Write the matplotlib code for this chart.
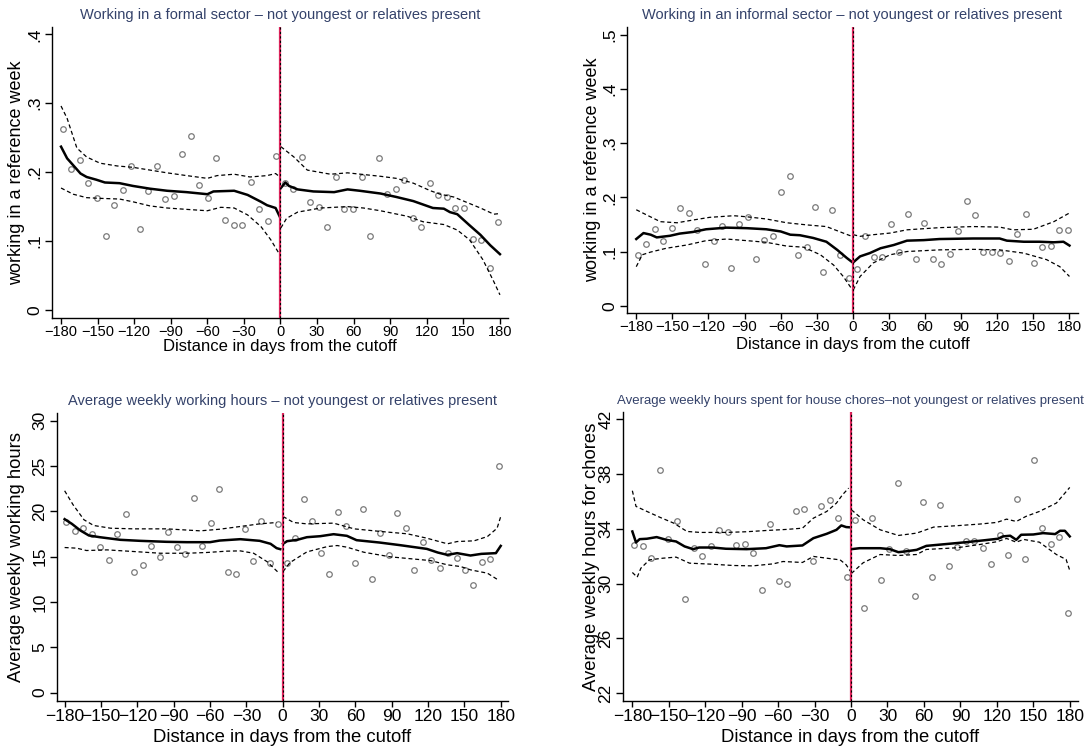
import numpy as np
import matplotlib
matplotlib.use("Agg")
import matplotlib.pyplot as plt

plt.rcParams['font.family'] = ['Liberation Sans', 'DejaVu Sans']

# ---------------- data ----------------
bins_left = np.arange(-178.5, 0, 7.0)     # weekly bins left of cutoff
bins_right = np.arange(3.5, 180, 7.0)     # weekly bins right of cutoff
x_ticks = [-180, -150, -120, -90, -60, -30, 0, 30, 60, 90, 120, 150, 180]

# Panel 1: formal sector
p1_left = [0.263, 0.204, 0.217, 0.184, 0.163, 0.108, 0.152, 0.174, 0.209, 0.118, 0.172, 0.209, 0.161,
           0.165, 0.227, 0.253, 0.181, 0.162, 0.220, 0.130, 0.124, 0.124, 0.186, 0.147, 0.129, 0.223]
p1_right = [0.184, 0.176, 0.222, 0.157, 0.149, 0.120, 0.193, 0.147, 0.147, 0.193, 0.107, 0.220, 0.168,
            0.176, 0.189, 0.133, 0.121, 0.184, 0.167, 0.164, 0.148, 0.148, 0.103, 0.102, 0.061, 0.128]
p1_fitL_x = [-180, -175, -164, -159, -151, -144, -132, -121, -107, -93, -77, -60, -55, -38, -27, -16, -11, -4, -0.5]
p1_fitL_y = [0.237, 0.220, 0.198, 0.193, 0.189, 0.185, 0.184, 0.180, 0.176, 0.173, 0.171, 0.168, 0.172, 0.173, 0.167, 0.157, 0.152, 0.148, 0.135]
p1_upL_x = [-180, -175, -167, -159, -148, -134, -121, -107, -93, -77, -60, -52, -38, -25, -11, -4, -0.5]
p1_upL_y = [0.296, 0.278, 0.235, 0.222, 0.213, 0.209, 0.207, 0.203, 0.199, 0.195, 0.191, 0.195, 0.197, 0.193, 0.195, 0.198, 0.193]
p1_loL_x = [-180, -170, -159, -148, -132, -121, -107, -93, -77, -60, -49, -38, -27, -16, -8, -0.5]
p1_loL_y = [0.177, 0.168, 0.163, 0.162, 0.161, 0.157, 0.151, 0.148, 0.146, 0.144, 0.149, 0.148, 0.138, 0.121, 0.102, 0.080]
p1_fitR_x = [0.3, 4, 7, 14, 27, 44, 55, 65, 82, 95, 109, 125, 134, 139, 145, 155, 164, 172, 180]
p1_fitR_y = [0.177, 0.185, 0.180, 0.175, 0.172, 0.171, 0.175, 0.173, 0.169, 0.164, 0.158, 0.148, 0.147, 0.142, 0.139, 0.123, 0.109, 0.094, 0.081]
p1_upR_x = [0.3, 11, 22, 41, 55, 82, 95, 109, 123, 131, 142, 153, 164, 175, 180]
p1_upR_y = [0.237, 0.222, 0.203, 0.197, 0.199, 0.194, 0.191, 0.184, 0.173, 0.168, 0.164, 0.156, 0.148, 0.139, 0.140]
p1_loR_x = [0.3, 5, 14, 33, 55, 68, 82, 104, 117, 134, 145, 155, 166, 175, 180]
p1_loR_y = [0.119, 0.133, 0.142, 0.148, 0.150, 0.148, 0.144, 0.136, 0.128, 0.124, 0.116, 0.102, 0.073, 0.041, 0.022]

# Panel 2: informal sector
p2_left = [0.094, 0.113, 0.142, 0.119, 0.144, 0.181, 0.171, 0.140, 0.077, 0.120, 0.147, 0.069, 0.150,
           0.163, 0.087, 0.122, 0.128, 0.210, 0.239, 0.094, 0.109, 0.182, 0.063, 0.177, 0.094, 0.052]
p2_right = [0.068, 0.129, 0.090, 0.089, 0.150, 0.100, 0.169, 0.086, 0.153, 0.087, 0.077, 0.095, 0.138,
            0.193, 0.167, 0.099, 0.099, 0.097, 0.082, 0.133, 0.169, 0.079, 0.109, 0.111, 0.139, 0.139]
p2_fitL_x = [-180, -174, -168, -163, -152, -144, -133, -122, -105, -88, -72, -60, -52, -44, -33, -22, -13, -5, -0.3]
p2_fitL_y = [0.123, 0.134, 0.131, 0.126, 0.129, 0.133, 0.136, 0.141, 0.144, 0.143, 0.141, 0.137, 0.131, 0.130, 0.125, 0.118, 0.103, 0.088, 0.080]
p2_upL_x = [-180, -171, -160, -146, -133, -119, -99, -88, -72, -55, -38, -22, -8, -2]
p2_upL_y = [0.177, 0.167, 0.155, 0.153, 0.158, 0.163, 0.166, 0.164, 0.160, 0.153, 0.149, 0.146, 0.134, 0.129]
p2_loL_x = [-180, -175, -168, -155, -138, -122, -105, -88, -72, -55, -41, -27, -16, -8, -0.3]
p2_loL_y = [0.072, 0.094, 0.099, 0.106, 0.112, 0.120, 0.123, 0.120, 0.117, 0.110, 0.108, 0.094, 0.075, 0.054, 0.029]
p2_fitR_x = [0.3, 6, 14, 23, 34, 45, 59, 72, 100, 122, 128, 142, 155, 167, 175, 180]
p2_fitR_y = [0.080, 0.091, 0.097, 0.106, 0.112, 0.120, 0.121, 0.123, 0.124, 0.124, 0.120, 0.118, 0.118, 0.117, 0.118, 0.111]
p2_upR_x = [0.3, 6, 17, 31, 45, 72, 100, 122, 133, 150, 167, 180]
p2_upR_y = [0.131, 0.128, 0.131, 0.134, 0.140, 0.144, 0.146, 0.145, 0.140, 0.141, 0.155, 0.171]
p2_loR_x = [0.3, 6, 17, 31, 45, 72, 100, 122, 142, 161, 172, 180]
p2_loR_y = [0.029, 0.054, 0.079, 0.094, 0.100, 0.103, 0.104, 0.103, 0.097, 0.085, 0.072, 0.054]

# Panel 3: weekly working hours
p3_left = [18.84, 17.78, 18.14, 17.52, 16.05, 14.61, 17.52, 19.69, 13.29, 14.06, 16.19, 14.98, 17.70,
           16.05, 15.31, 21.46, 16.19, 18.77, 22.49, 13.36, 13.07, 18.07, 14.54, 18.99, 14.32, 18.66]
p3_right = [14.28, 17.04, 21.38, 18.92, 15.42, 13.07, 19.91, 18.40, 14.28, 20.21, 12.51, 17.56, 15.16,
            19.84, 18.18, 13.58, 16.60, 14.61, 13.73, 15.38, 14.80, 13.51, 11.93, 14.46, 14.76, 25.03]
p3_fitL_x = [-180, -174, -167, -160, -151, -134, -118, -96, -79, -60, -52, -35, -19, -10, -5, -2]
p3_fitL_y = [19.14, 18.62, 17.89, 17.34, 17.15, 16.86, 16.75, 16.64, 16.60, 16.60, 16.78, 16.93, 16.75, 16.42, 15.94, 15.83]
p3_upL_x = [-180, -173, -164, -156, -142, -123, -96, -68, -52, -35, -19, -5]
p3_upL_y = [22.27, 20.72, 19.07, 18.44, 18.14, 18.07, 18.07, 17.85, 18.03, 18.33, 18.62, 18.77]
p3_loL_x = [-180, -170, -162, -145, -123, -101, -79, -63, -46, -35, -24, -13, -3]
p3_loL_y = [16.01, 15.94, 15.68, 15.75, 15.57, 15.38, 15.38, 15.46, 15.61, 15.64, 15.38, 14.46, 13.18]
p3_fitR_x = [0.3, 3.6, 12, 20, 31, 42, 53, 61, 80, 97, 119, 128, 136, 144, 155, 164, 176, 180]
p3_fitR_y = [16.42, 16.71, 16.86, 17.15, 17.26, 17.48, 17.30, 16.82, 16.56, 16.27, 15.86, 15.46, 15.20, 15.39, 15.13, 15.31, 15.39, 16.19]
p3_upR_x = [0.3, 9, 20, 42, 59, 81, 103, 119, 136, 144, 158, 169, 177, 180]
p3_upR_y = [19.43, 18.77, 18.62, 18.70, 18.07, 17.78, 17.52, 17.04, 16.42, 16.67, 16.75, 17.22, 18.14, 19.43]
p3_loR_x = [0.3, 6, 20, 37, 45, 53, 67, 89, 122, 136, 147, 155, 169, 177]
p3_loR_y = [13.36, 14.35, 15.53, 16.12, 16.23, 16.05, 15.49, 14.98, 14.57, 14.10, 13.91, 13.55, 13.18, 12.51]

# Panel 4: weekly hours for house chores
p4_left = [32.83, 32.73, 31.85, 38.30, 33.24, 34.53, 28.86, 32.61, 32.02, 32.75, 33.90, 33.78, 32.78,
           32.88, 32.24, 29.52, 34.36, 30.18, 29.98, 35.28, 35.43, 31.66, 35.67, 36.09, 34.80, 30.47]
p4_right = [34.63, 28.25, 34.77, 30.25, 32.51, 37.33, 32.41, 29.06, 35.94, 30.47, 35.70, 31.27, 32.68,
            33.14, 33.07, 32.61, 31.42, 33.51, 32.12, 36.16, 31.81, 39.01, 34.04, 32.90, 33.41, 27.84]
p4_fitL_x = [-180, -177, -174, -168, -160, -152, -144, -137, -130, -125, -114, -103, -86, -70, -59, -53, -40, -31, -20, -12, -8, -4, -0.5]
p4_fitL_y = [33.80, 33.00, 33.24, 33.27, 33.39, 33.19, 33.07, 32.71, 32.51, 32.63, 32.63, 32.54, 32.51, 32.58, 32.80, 32.71, 32.78, 33.31, 33.63, 33.92, 34.24, 34.12, 34.10]
p4_upL_x = [-180, -177, -168, -157, -146, -135, -124, -103, -86, -70, -53, -40, -31, -20, -12, -7, -2]
p4_upL_y = [36.77, 35.63, 35.26, 34.82, 34.41, 33.80, 33.73, 33.73, 33.78, 33.87, 33.95, 34.04, 34.77, 35.26, 35.87, 36.48, 36.96]
p4_loL_x = [-180, -176, -173, -166, -155, -144, -133, -116, -97, -81, -64, -56, -40, -31, -20, -9, -4, -0.5]
p4_loL_y = [30.81, 30.47, 31.12, 31.73, 31.85, 31.93, 31.49, 31.42, 31.32, 31.29, 31.44, 31.61, 31.54, 31.98, 31.85, 31.73, 31.37, 30.90]
p4_fitR_x = [0.3, 7, 24, 32, 39, 45, 54, 62, 78, 95, 111, 121, 125, 131, 136, 140, 150, 158, 168, 172, 176, 180]
p4_fitR_y = [32.51, 32.58, 32.58, 32.51, 32.29, 32.35, 32.46, 32.75, 32.88, 33.02, 33.17, 33.27, 33.44, 33.49, 33.19, 33.56, 33.58, 33.68, 33.61, 33.85, 33.85, 33.44]
p4_upR_x = [0.3, 10, 24, 39, 54, 68, 87, 106, 120, 128, 136, 144, 155, 169, 180]
p4_upR_y = [35.38, 34.65, 33.92, 33.51, 33.68, 34.12, 34.22, 34.34, 34.46, 34.70, 34.53, 34.90, 35.26, 35.87, 37.01]
p4_loR_x = [0.3, 10, 24, 39, 54, 62, 87, 106, 120, 128, 136, 142, 155, 169, 177, 180]
p4_loR_y = [30.74, 31.52, 32.12, 32.05, 32.12, 32.49, 32.61, 32.85, 33.05, 33.29, 33.02, 33.22, 33.02, 32.12, 31.76, 30.96]

titles = ["Working in a formal sector \u2013 not youngest or relatives present",
          "Working in an informal sector \u2013 not youngest or relatives present",
          "Average weekly working hours \u2013 not youngest or relatives present",
          "Average weekly hours spent for house chores\u2013not youngest or relatives present"]
ylabels = ["working in a reference week", "working in a reference week",
           "Average weekly working hours", "Average weekly hours for chores"]
xlabel = "Distance in days from the cutoff"

p1_yticks = [0, 0.1, 0.2, 0.3, 0.4]
p1_yticklabels = ["0", ".1", ".2", ".3", ".4"]
p2_yticks = [0, 0.1, 0.2, 0.3, 0.4, 0.5]
p2_yticklabels = ["0", ".1", ".2", ".3", ".4", ".5"]
p3_yticks = [0, 5, 10, 15, 20, 25, 30]
p4_yticks = [22, 26, 30, 34, 38, 42]

# ---------------- layout ----------------
W, H = 1091, 751
fig = plt.figure(figsize=(W / 100, H / 100), dpi=100)
fig.patch.set_facecolor("white")

def px_axes(l, r, t, b):
    return fig.add_axes([l / W, (H - b) / H, (r - l) / W, (b - t) / H])

panels = [
    dict(box=(52, 508, 27, 318), ylim=(-0.0116, 0.4106), xlim=(-187.4, 186.6),
         left=p1_left, right=p1_right,
         fitL=(p1_fitL_x, p1_fitL_y), upL=(p1_upL_x, p1_upL_y), loL=(p1_loL_x, p1_loL_y),
         fitR=(p1_fitR_x, p1_fitR_y), upR=(p1_upR_x, p1_upR_y), loR=(p1_loR_x, p1_loR_y),
         yt=p1_yticks, ytl=p1_yticklabels, title_y=15, title_fs=10.5, ylab_x=17, ylab_fs=13,
         xt_fs=10.5, xt_pad=1.0, xlab_y=347, xlab_fs=12),
    dict(box=(627, 1078, 27, 313), ylim=(-0.0134, 0.514), xlim=(-187.7, 187.1),
         left=p2_left, right=p2_right,
         fitL=(p2_fitL_x, p2_fitL_y), upL=(p2_upL_x, p2_upL_y), loL=(p2_loL_x, p2_loL_y),
         fitR=(p2_fitR_x, p2_fitR_y), upR=(p2_upR_x, p2_upR_y), loR=(p2_loR_x, p2_loR_y),
         yt=p2_yticks, ytl=p2_yticklabels, title_y=15, title_fs=10.5, ylab_x=593, ylab_fs=13,
         xt_fs=10.8, xt_pad=1.0, xlab_y=344, xlab_fs=12),
    dict(box=(57, 508, 413, 701), ylim=(-0.92, 30.85), xlim=(-186.3, 186.0),
         left=p3_left, right=p3_right,
         fitL=(p3_fitL_x, p3_fitL_y), upL=(p3_upL_x, p3_upL_y), loL=(p3_loL_x, p3_loL_y),
         fitR=(p3_fitR_x, p3_fitR_y), upR=(p3_upR_x, p3_upR_y), loR=(p3_loR_x, p3_loR_y),
         yt=p3_yticks, ytl=[str(v) for v in p3_yticks], title_y=401, title_fs=10.5, ylab_x=17, ylab_fs=13.3,
         xt_fs=12.5, xt_pad=2.0, xlab_y=737, xlab_fs=13.3),
    dict(box=(623, 1078, 412, 701), ylim=(21.44, 42.51), xlim=(-187.7, 186.8),
         left=p4_left, right=p4_right,
         fitL=(p4_fitL_x, p4_fitL_y), upL=(p4_upL_x, p4_upL_y), loL=(p4_loL_x, p4_loL_y),
         fitR=(p4_fitR_x, p4_fitR_y), upR=(p4_upR_x, p4_upR_y), loR=(p4_loR_x, p4_loR_y),
         yt=p4_yticks, ytl=[str(v) for v in p4_yticks], title_y=401, title_fs=9.5, ylab_x=592, ylab_fs=13.3,
         xt_fs=12.5, xt_pad=2.0, xlab_y=737, xlab_fs=13.3),
]

title_color = "#34426a"
marker_color = "#7a7a7a"
dash = (0, (3.2, 2.2))

for i, p in enumerate(panels):
    l, r, t, b = p["box"]
    ax = px_axes(l, r, t, b)
    ax.set_xlim(*p["xlim"])
    ax.set_ylim(*p["ylim"])
    for s in ["top", "right"]:
        ax.spines[s].set_visible(False)
    for s in ["left", "bottom"]:
        ax.spines[s].set_linewidth(1.0)
        ax.spines[s].set_color("black")

    # scatter
    ax.plot(bins_left, p["left"], "o", mfc="none", mec=marker_color, ms=4.0, mew=0.9, zorder=3)
    ax.plot(bins_right, p["right"], "o", mfc="none", mec=marker_color, ms=4.0, mew=0.9, zorder=3)
    # fits
    for key in ["fitL", "fitR"]:
        ax.plot(p[key][0], p[key][1], color="black", lw=1.8, zorder=4)
    for key in ["upL", "loL", "upR", "loR"]:
        ax.plot(p[key][0], p[key][1], color="black", lw=0.9, linestyle=dash, zorder=4)
    # cutoff line
    ax.axvline(0, color="#e0245c", lw=1.6, zorder=5)
    ax.axvline(0, color="black", lw=0.8, linestyle=(0, (2, 2)), zorder=6)

    ax.set_xticks(x_ticks)
    ax.set_xticklabels([str(v).replace("-", "\u2212") for v in x_ticks], fontsize=p["xt_fs"])
    ax.set_yticks(p["yt"])
    ax.set_yticklabels(p["ytl"], fontsize=12.5, rotation=90, va="center")
    ax.tick_params(axis="both", direction="out", length=5, width=1.0, pad=2, colors="black")
    ax.tick_params(axis="x", length=4, pad=p["xt_pad"])

    cx = (l + r) / 2
    fig.text(cx / W, (H - p["title_y"]) / H, titles[i], ha="center", va="center",
             fontsize=p["title_fs"], color=title_color)
    fig.text(p["ylab_x"] / W, (H - (t + b) / 2) / H, ylabels[i], rotation=90,
             ha="center", va="center", fontsize=p["ylab_fs"])
    fig.text(cx / W, (H - p["xlab_y"]) / H, xlabel, ha="center", va="center", fontsize=p["xlab_fs"])

fig.savefig("out.png", dpi=100, facecolor="white")
